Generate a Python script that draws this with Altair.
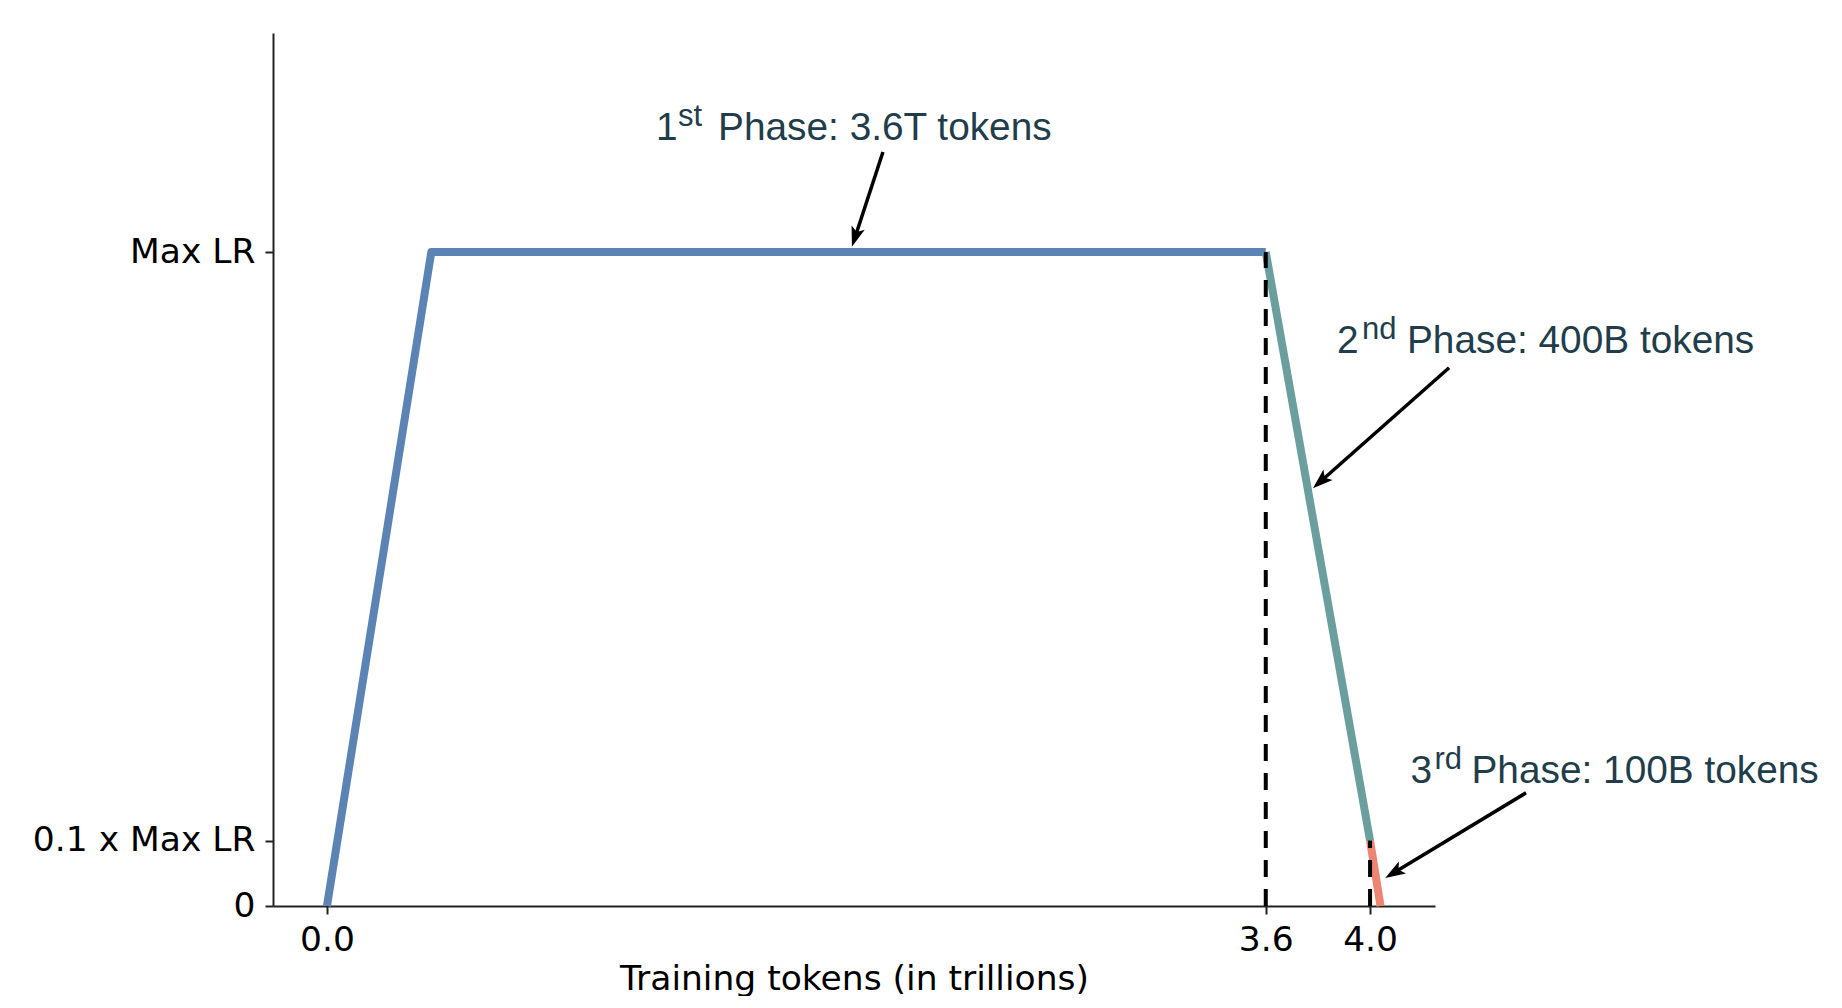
import math
import altair as alt
import pandas as pd

# ---------------- data ----------------
phase_names = ["1st", "2nd", "3rd"]
seg1_x = [0.0, 0.4, 3.6]
seg1_y = [0.0, 1.0, 1.0]
seg2_x = [3.6, 4.0]
seg2_y = [1.0, 0.1]
seg3_x = [4.0, 4.04]
seg3_y = [0.1, 0.0]

dash_x = [3.6, 4.0]
dash_top = [1.0, 0.1]

x_ticks = [0.0, 3.6, 4.0]
y_ticks = [0.0, 0.1, 1.0]
y_tick_labels = ["0", "0.1 x Max LR", "Max LR"]

ann_num = ["1", "2", "3"]
ann_sup = ["st", "nd", "rd"]
ann_text = ["Phase: 3.6T tokens", "Phase: 400B tokens", "Phase: 100B tokens"]
ann_x = [1.262, 3.873, 4.155]
ann_y = [1.171, 0.846, 0.188]

arrow_x = [2.132, 4.303, 4.598]
arrow_y = [1.153, 0.823, 0.173]
arrow_x2 = [2.013, 3.781, 4.058]
arrow_y2 = [1.008, 0.639, 0.043]

# ---------------- style ----------------
W, H = 1162, 873
XDOM = [-0.207, 4.249]
YDOM = [0.0, 1.335]
LINE_COLORS = ["#5b83b4", "#6b9f9d", "#ec8571"]
TEXT_COLOR = "#1f3d4b"
ANN_FONT = "Liberation Sans"
AX_FONT = "DejaVu Sans"
MAIN_DX = [62, 70, 61]
SUP_DX = [22, 25, 24]

xscale = alt.Scale(domain=XDOM, nice=False, zero=False)
yscale = alt.Scale(domain=YDOM, nice=False, zero=False)

label_expr = " : ".join(
    f"datum.value == {v} ? '{t}'" for v, t in zip(y_ticks, y_tick_labels)
) + " : ''"

X_AX = alt.Axis(
    values=x_ticks, format=".1f", title="Training tokens (in trillions)",
    grid=False, domainColor="#222", domainWidth=2, tickColor="#222",
    tickWidth=2, tickSize=8, labelPadding=9, labelFont=AX_FONT,
    labelFontSize=34.5, labelColor="#000", titleFont=AX_FONT,
    titleFontSize=34.5, titleFontWeight="normal", titleColor="#000",
    titlePadding=6, labelFlush=False, labelLimit=0)
Y_AX = alt.Axis(
    values=y_ticks, labelExpr=label_expr, title=None, grid=False,
    domainColor="#222", domainWidth=2, tickColor="#222", tickWidth=2,
    tickSize=8, labelPadding=10, labelFont=AX_FONT, labelFontSize=34.5,
    labelColor="#000", labelFlush=False, labelLimit=0)


def px(v):
    return (v - XDOM[0]) / (XDOM[1] - XDOM[0]) * W


def py(v):
    return H - (v - YDOM[0]) / (YDOM[1] - YDOM[0]) * H


def X(field):
    return alt.X(field, scale=xscale, axis=X_AX)


def Y(field):
    return alt.Y(field, scale=yscale, axis=Y_AX)


# line data
rows = []
for name, xs, ys in zip(phase_names, [seg1_x, seg2_x, seg3_x], [seg1_y, seg2_y, seg3_y]):
    for i, (a, b) in enumerate(zip(xs, ys)):
        rows.append({"seg": name, "i": i, "x": a, "y": b})
line_df = pd.DataFrame(rows)

lines = alt.Chart(line_df).mark_line(
    strokeWidth=8, strokeJoin="round", strokeCap="butt"
).encode(
    x=X("x:Q"),
    y=Y("y:Q"),
    color=alt.Color("seg:N", scale=alt.Scale(domain=phase_names, range=LINE_COLORS), legend=None),
    order="i:O",
    detail="seg:N",
)

dash_df = pd.DataFrame({"x": dash_x, "y0": [0.0] * len(dash_x), "ytop": dash_top})
dashes = alt.Chart(dash_df).mark_rule(
    strokeDash=[17, 12], strokeWidth=4, color="black"
).encode(
    x=X("x:Q"),
    y=Y("y0:Q"),
    y2="ytop:Q",
)

# arrows
arows = []
for x0, y0, x1, y1 in zip(arrow_x, arrow_y, arrow_x2, arrow_y2):
    dxp = px(x1) - px(x0)
    dyp = py(y1) - py(y0)
    L = math.hypot(dxp, dyp)
    t = 12.0 / L
    ang = math.degrees(math.atan2(dxp, -dyp)) % 360
    arows.append({"x": x0, "y": y0, "xe": x1 - (x1 - x0) * t, "ye": y1 - (y1 - y0) * t,
                  "hx": x1, "hy": y1, "ang": ang})
arrow_df = pd.DataFrame(arows)

shafts = alt.Chart(arrow_df).mark_rule(strokeWidth=3.5, color="black").encode(
    x=X("x:Q"),
    y=Y("y:Q"),
    x2="xe:Q",
    y2="ye:Q",
)

HEAD = "M0,0 L0.62,1.8 L0,1.4 L-0.62,1.8 Z"
heads = alt.Chart(arrow_df).mark_point(
    shape=HEAD, filled=True, color="black", size=500, opacity=1, strokeWidth=0
).encode(
    x=X("hx:Q"),
    y=Y("hy:Q"),
    angle=alt.Angle("ang:Q", scale=None),
)

# annotation texts
texts = []
for k in range(len(ann_num)):
    d = pd.DataFrame({"x": [ann_x[k]], "y": [ann_y[k]], "num": [ann_num[k]],
                      "sup": [ann_sup[k]], "txt": [ann_text[k]]})
    base = alt.Chart(d)
    enc = dict(x=X("x:Q"), y=Y("y:Q"))
    texts.append(base.mark_text(align="left", baseline="alphabetic", font=ANN_FONT,
                                fontSize=38.8, color=TEXT_COLOR).encode(text="num:N", **enc))
    texts.append(base.mark_text(align="left", baseline="alphabetic", font=ANN_FONT,
                                fontSize=31, color=TEXT_COLOR, dx=SUP_DX[k], dy=-14
                                ).encode(text="sup:N", **enc))
    texts.append(base.mark_text(align="left", baseline="alphabetic", font=ANN_FONT,
                                fontSize=38.8, color=TEXT_COLOR, dx=MAIN_DX[k]
                                ).encode(text="txt:N", **enc))

chart = alt.layer(lines, dashes, shafts, heads, *texts).properties(
    width=W, height=H,
    padding={"left": 24, "top": 25, "right": 0, "bottom": 0},
).configure(background="white").configure_view(stroke=None, strokeWidth=0)

chart.save("out.html", embed_options={"renderer": "svg", "actions": False})
